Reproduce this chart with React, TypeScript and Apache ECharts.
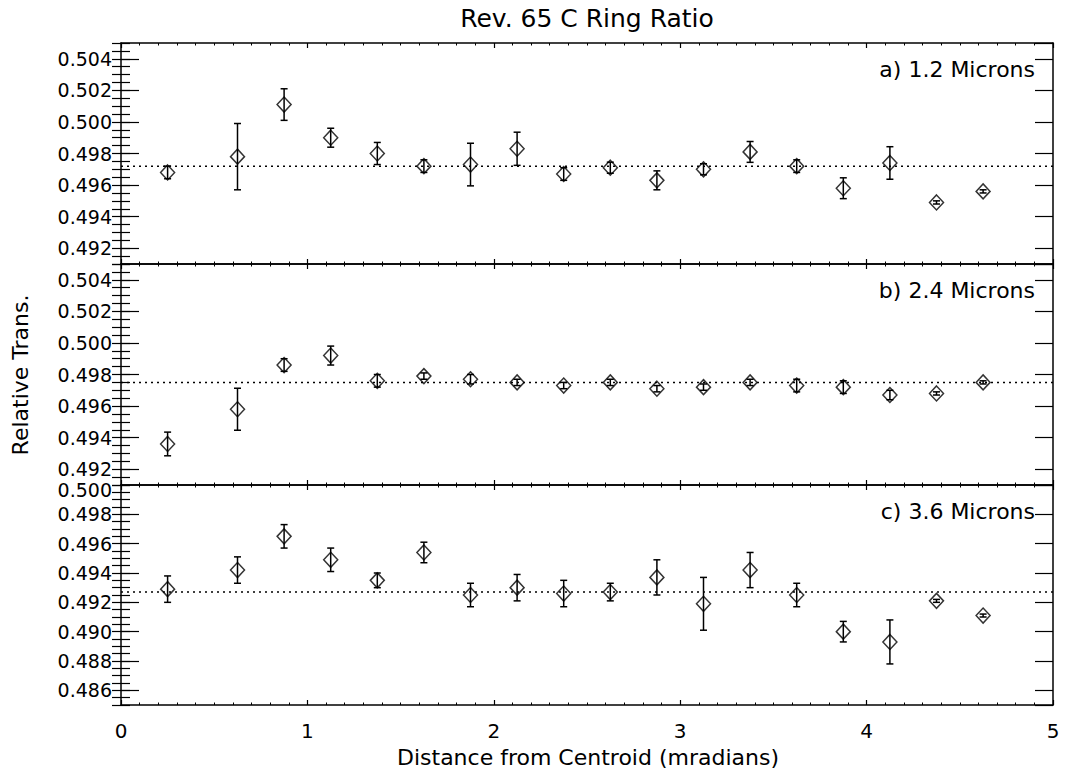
import React, { useEffect, useRef } from "react";
import * as echarts from "echarts";

// ---- data ----
const xValues = [0.25, 0.625, 0.875, 1.125, 1.375, 1.625, 1.875, 2.125, 2.375, 2.625, 2.875, 3.125, 3.375, 3.625, 3.875, 4.125, 4.375, 4.625];

const ratioA = [0.4968, 0.4978, 0.5011, 0.4990, 0.4980, 0.4972, 0.4973, 0.4983, 0.4967, 0.4971, 0.4963, 0.4970, 0.4981, 0.4972, 0.4958, 0.4974, 0.4949, 0.4956];
const errA = [0.0004, 0.0021, 0.0010, 0.0006, 0.0007, 0.0004, 0.00135, 0.00105, 0.0004, 0.00035, 0.0006, 0.00035, 0.00066, 0.0004, 0.00066, 0.00103, 0.0001, 0.0001];

const ratioB = [0.4936, 0.4958, 0.4986, 0.4992, 0.4976, 0.4979, 0.4977, 0.4975, 0.4973, 0.4975, 0.4971, 0.4972, 0.4975, 0.4973, 0.4972, 0.4967, 0.4968, 0.4975];
const errB = [0.00075, 0.00133, 0.0004, 0.0006, 0.0004, 0.0002, 0.0003, 0.0002, 0.0002, 0.0002, 0.0002, 0.0002, 0.0002, 0.0004, 0.0004, 0.0003, 0.0001, 0.0001];

const ratioC = [0.4929, 0.4942, 0.4965, 0.4949, 0.4935, 0.4954, 0.4925, 0.4930, 0.4926, 0.4927, 0.4937, 0.4919, 0.4942, 0.4925, 0.4900, 0.4893, 0.4921, 0.4911];
const errC = [0.0009, 0.0009, 0.0008, 0.0008, 0.0005, 0.0007, 0.0008, 0.0009, 0.0009, 0.0006, 0.0012, 0.0018, 0.0012, 0.0008, 0.0007, 0.0015, 0.0001, 0.0001];

const meanLines = [0.4972, 0.4975, 0.4927];
const panelLabels = ["a) 1.2 Microns", "b) 2.4 Microns", "c) 3.6 Microns"];
const yRanges = [
  [0.491, 0.505],
  [0.491, 0.505],
  [0.485, 0.5],
];
const xRange = [0, 5];
const chartTitle = "Rev. 65 C Ring Ratio";
const xTitle = "Distance from Centroid (mradians)";
const yTitle = "Relative Trans.";
const topLabelC = "0.500";

const FONT = "'DejaVu Sans', sans-serif";

export default function App() {
  const ref = useRef<HTMLDivElement>(null);
  useEffect(() => {
    if (!ref.current) return;
    const chart = echarts.init(ref.current, null, { renderer: "svg" });
    const left = 121;
    const right = 14;
    const panels = [
      { top: 43, height: 221 },
      { top: 264, height: 221 },
      { top: 485, height: 220 },
    ];
    const values = [ratioA, ratioB, ratioC];
    const errs = [errA, errB, errC];

    const grid: any[] = [];
    const xAxis: any[] = [];
    const yAxis: any[] = [];
    const series: any[] = [];
    const graphic: any[] = [];

    panels.forEach((p, i) => {
      grid.push({ left, right, top: p.top, height: p.height, show: false });
      const isLast = i === panels.length - 1;
      const baseX = {
        type: "value",
        gridIndex: i,
        min: xRange[0],
        max: xRange[1],
        interval: 1,
        splitLine: { show: false },
        axisLine: { show: true, onZero: false, lineStyle: { color: "#000", width: 1.5 } },
        axisTick: { show: true, inside: true, length: 5, lineStyle: { color: "#000", width: 1.2 } },
        minorTick: { show: true, splitNumber: 10, length: 2.5, lineStyle: { color: "#000", width: 1 } },
      };
      xAxis.push({
        ...baseX,
        position: "bottom",
        axisLabel: isLast
          ? { show: true, fontSize: 20, color: "#000", fontFamily: FONT, margin: 16, showMinLabel: true, showMaxLabel: true }
          : { show: false },
      });
      xAxis.push({ ...baseX, position: "top", axisLabel: { show: false } });

      const [ymin, ymax] = yRanges[i];
      const major = (pos: string, labels: boolean) => ({
        type: "value",
        gridIndex: i,
        position: pos,
        min: ymin,
        max: ymax,
        splitNumber: 7,
        splitLine: { show: false },
        axisLine: { show: true, onZero: false, lineStyle: { color: "#000", width: 1.5 } },
        axisTick: { show: true, inside: true, length: 18, lineStyle: { color: "#000", width: 1.2 } },
        axisLabel: labels
          ? {
              show: true,
              fontSize: 19,
              color: "#000",
              fontFamily: FONT,
              margin: 9,
              showMinLabel: false,
              showMaxLabel: false,
              hideOverlap: false,
              formatter: (v: number) => v.toFixed(3),
            }
          : { show: false },
      });
      const minor = (pos: string) => ({
        type: "value",
        gridIndex: i,
        position: pos,
        min: ymin,
        max: ymax,
        interval: 0.0005,
        splitLine: { show: false },
        axisLine: { show: false },
        axisTick: { show: true, inside: true, length: 9, lineStyle: { color: "#000", width: 1.2 } },
        axisLabel: { show: false },
      });
      yAxis.push(major("left", true), minor("left"), major("right", false), minor("right"));

      const xIdx = i * 2;
      const yIdx = i * 4;

      series.push({
        type: "line",
        xAxisIndex: xIdx,
        yAxisIndex: yIdx,
        data: [
          [xRange[0], meanLines[i]],
          [xRange[1], meanLines[i]],
        ],
        symbol: "none",
        silent: true,
        lineStyle: { color: "#000", width: 1.5, type: [2, 4] },
      });

      series.push({
        type: "custom",
        xAxisIndex: xIdx,
        yAxisIndex: yIdx,
        data: xValues.map((x, k) => [x, values[i][k], errs[i][k]]),
        encode: { x: 0, y: 1 },
        renderItem: (_params: any, api: any) => {
          const x = api.value(0);
          const y = api.value(1);
          const e = api.value(2);
          const t = api.coord([x, y + e]);
          const b = api.coord([x, y - e]);
          const cw = 3.5;
          const style = { stroke: "#000", lineWidth: 1.5 };
          return {
            type: "group",
            children: [
              { type: "line", shape: { x1: t[0], y1: t[1], x2: b[0], y2: b[1] }, style },
              { type: "line", shape: { x1: t[0] - cw, y1: t[1], x2: t[0] + cw, y2: t[1] }, style },
              { type: "line", shape: { x1: b[0] - cw, y1: b[1], x2: b[0] + cw, y2: b[1] }, style },
            ],
          };
        },
      });

      series.push({
        type: "scatter",
        xAxisIndex: xIdx,
        yAxisIndex: yIdx,
        data: xValues.map((x, k) => [x, values[i][k]]),
        symbol: "diamond",
        symbolSize: [14, 15],
        itemStyle: { color: "rgba(0,0,0,0)", borderColor: "#000", borderWidth: 1.5 },
      });

      graphic.push({
        type: "text",
        right: 32,
        top: p.top + 15,
        style: { text: panelLabels[i], fontSize: 22, fontFamily: FONT, fill: "#000" },
      });
    });

    graphic.push({
      type: "text",
      x: 112,
      y: 490,
      style: { text: topLabelC, fontSize: 19, fontFamily: FONT, fill: "#000", align: "right", verticalAlign: "middle" },
    });
    graphic.push({
      type: "text",
      x: 587,
      y: 18,
      style: { text: chartTitle, fontSize: 25, fontFamily: FONT, fill: "#000", align: "center", verticalAlign: "middle" },
    });
    graphic.push({
      type: "text",
      x: 588,
      y: 757,
      style: { text: xTitle, fontSize: 22, fontFamily: FONT, fill: "#000", align: "center", verticalAlign: "middle" },
    });
    graphic.push({
      type: "text",
      x: 20,
      y: 375,
      rotation: Math.PI / 2,
      style: { text: yTitle, fontSize: 22, fontFamily: FONT, fill: "#000", align: "center", verticalAlign: "middle" },
    });

    chart.setOption({
      animation: false,
      backgroundColor: "#fff",
      grid,
      xAxis,
      yAxis,
      series,
      graphic,
    });
    return () => chart.dispose();
  }, []);
  return <div ref={ref} style={{ position: "fixed", left: 0, top: 0, width: 1067, height: 776 }} />;
}
